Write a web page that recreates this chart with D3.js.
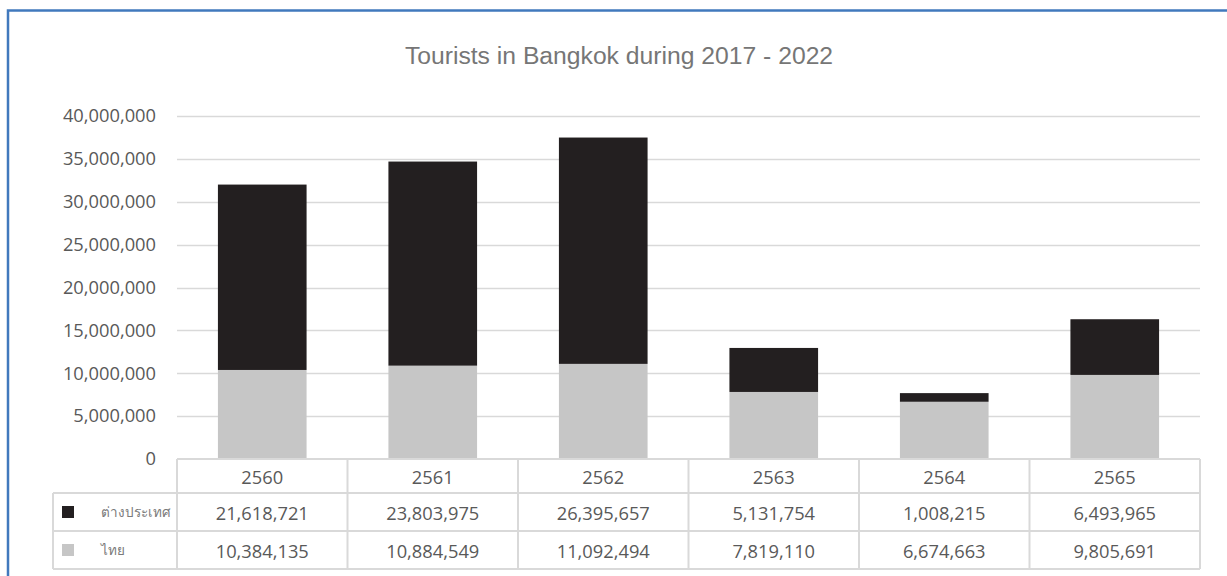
<!DOCTYPE html>
<html>
<head>
<meta charset="utf-8">
<script src="https://cdn.jsdelivr.net/npm/d3@7"></script>
<style>
  html, body { margin: 0; padding: 0; background: #fff; }
  svg { display: block; }
</style>
</head>
<body>
<svg id="chart" width="1227" height="576"></svg>
<script>
// Years (Buddhist era) and tourist counts per series
const years = ["2560", "2561", "2562", "2563", "2564", "2565"];
const foreignValues = [21618721, 23803975, 26395657, 5131754, 1008215, 6493965];
const thaiValues = [10384135, 10884549, 11092494, 7819110, 6674663, 9805691];
const seriesNames = ["ต่างประเทศ", "ไทย"];
const seriesColors = ["#231f20", "#c6c6c6"];
const yTicks = [0, 5000000, 10000000, 15000000, 20000000, 25000000, 30000000, 35000000, 40000000];
const titleText = "Tourists in Bangkok during 2017 - 2022";

const svg = d3.select("#chart");
const W = 1227, H = 576;
const textColor = "#595959";
const lineColor = "#d9d9d9";
const numFont = "'Open Sans', 'Noto Sans', sans-serif";

// Chart frame (extends past the right and bottom of the view)
svg.append("rect")
  .attr("x", 8).attr("y", 10.5)
  .attr("width", W + 20).attr("height", H + 20)
  .attr("fill", "#fff")
  .attr("stroke", "#4179bd").attr("stroke-width", 2.5);

// Title
svg.append("text")
  .attr("x", 619).attr("y", 64)
  .attr("text-anchor", "middle")
  .attr("font-family", "'Liberation Sans', Arial, sans-serif")
  .attr("font-size", 24.7)
  .attr("fill", "#767676")
  .text(titleText);

const plotLeft = 177, plotRight = 1200, plotTop = 116, plotBottom = 459;

const x = d3.scaleBand().domain(years).range([plotLeft, plotRight]).paddingInner(0.48).paddingOuter(0.24);
const xCol = d3.scaleBand().domain(years).range([plotLeft, plotRight]).padding(0);
const y = d3.scaleLinear().domain([0, 40000000]).range([plotBottom, plotTop]);

// Gridlines
svg.append("g")
  .selectAll("line")
  .data(yTicks.filter(d => d > 0))
  .join("line")
  .attr("x1", plotLeft).attr("x2", plotRight)
  .attr("y1", d => Math.round(y(d)) + 0.5).attr("y2", d => Math.round(y(d)) + 0.5)
  .attr("stroke", lineColor).attr("stroke-width", 1.5);

// Y axis labels
const yAxis = d3.axisLeft(y).tickValues(yTicks).tickSize(0).tickPadding(0)
  .tickFormat(d3.format(","));
const yg = svg.append("g").attr("transform", `translate(${plotLeft - 21},0)`).call(yAxis);
yg.select(".domain").remove();
yg.selectAll("text")
  .attr("font-family", numFont).attr("font-size", 18.3)
  .attr("fill", textColor);

// Stacked bars
const rows = years.map((yr, i) => ({ year: yr, foreign: foreignValues[i], thai: thaiValues[i] }));
const stack = d3.stack().keys(["thai", "foreign"]);
const layers = stack(rows);
const colorFor = { thai: seriesColors[1], foreign: seriesColors[0] };

svg.append("g")
  .selectAll("g")
  .data(layers)
  .join("g")
  .attr("fill", d => colorFor[d.key])
  .selectAll("rect")
  .data(d => d)
  .join("rect")
  .attr("x", d => x(d.data.year))
  .attr("width", x.bandwidth())
  .attr("y", d => y(d[1]))
  .attr("height", d => y(d[0]) - y(d[1]));

// Data table beneath the plot
const tableLeft = 53;
const rowTops = [plotBottom, 493, 531, 569];
const tbl = svg.append("g").attr("stroke", lineColor).attr("stroke-width", 2).attr("fill", "none");

// horizontal lines
tbl.append("line").attr("x1", plotLeft).attr("x2", plotRight).attr("y1", rowTops[0]).attr("y2", rowTops[0]);
[1, 2, 3].forEach(k => {
  tbl.append("line").attr("x1", tableLeft).attr("x2", plotRight).attr("y1", rowTops[k]).attr("y2", rowTops[k]);
});
// vertical lines
tbl.append("line").attr("x1", tableLeft).attr("x2", tableLeft).attr("y1", rowTops[1]).attr("y2", rowTops[3]);
years.forEach(yr => {
  const xl = xCol(yr);
  tbl.append("line").attr("x1", xl).attr("x2", xl).attr("y1", rowTops[0]).attr("y2", rowTops[3]);
});
tbl.append("line").attr("x1", plotRight).attr("x2", plotRight).attr("y1", rowTops[0]).attr("y2", rowTops[3]);

const cellText = (xc, yc, str) => svg.append("text")
  .attr("x", xc).attr("y", yc)
  .attr("text-anchor", "middle").attr("dominant-baseline", "central")
  .attr("font-family", numFont).attr("font-size", 18.3)
  .attr("fill", textColor).text(str);

// Category row
years.forEach(yr => cellText(xCol(yr) + xCol.bandwidth() / 2, (rowTops[0] + rowTops[1]) / 2, yr));

// Series rows
const seriesValues = [foreignValues, thaiValues];
const fmt = d3.format(",");
seriesValues.forEach((vals, r) => {
  const yc = (rowTops[r + 1] + rowTops[r + 2]) / 2;
  vals.forEach((v, i) => cellText(xCol(years[i]) + xCol.bandwidth() / 2, yc, fmt(v)));
  svg.append("rect")
    .attr("x", 62).attr("y", yc - 6).attr("width", 12).attr("height", 12)
    .attr("fill", seriesColors[r]);
  svg.append("text")
    .attr("x", 101).attr("y", yc)
    .attr("dominant-baseline", "central")
    .attr("font-family", "'Noto Sans', sans-serif").attr("font-size", 13.5)
    .attr("fill", "#7a7a7a")
    .text(seriesNames[r]);
});
</script>
</body>
</html>
